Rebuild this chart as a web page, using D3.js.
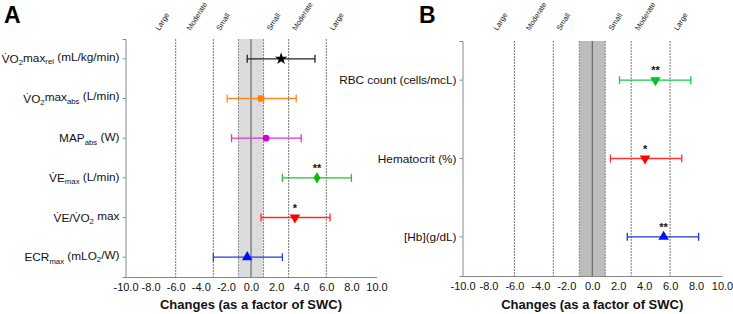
<!DOCTYPE html>
<html><head><meta charset="utf-8">
<script src="https://cdn.jsdelivr.net/npm/d3@7"></script>
<style>body{margin:0;background:#fff}svg{display:block;font-family:"Liberation Sans",Arial,sans-serif}</style>
</head><body><svg id="c" width="733" height="314"></svg>
<script>
// ---------- data ----------
const aLabels = ["V\u0307O_{2}max_{rel} (mL/kg/min)", "V\u0307O_{2}max_{abs} (L/min)", "MAP_{abs} (W)", "V\u0307E_{max} (L/min)", "V\u0307E/V\u0307O_{2} max", "ECR_{max} (mLO_{2}/W)"];
const aMean = [2.4, 0.8, 1.2, 5.26, 3.5, -0.3];
const aLow  = [-0.3, -1.9, -1.55, 2.5, 0.8, -3.0];
const aHigh = [5.1, 3.6, 4.0, 8.0, 6.3, 2.5];
const aSig  = ["", "", "", "**", "*", ""];
const aSymbols = ["star", "square", "circle", "diamond", "down", "up"];
const aColors  = ["#222222", "#ff8a1c", "#e030e0", "#22c322", "#ff2a2a", "#1f3fe0"];
const aMarkerColors = ["#000000", "#ff7f00", "#d500d5", "#10bb10", "#ff0000", "#0010ff"];

const bLabels = ["RBC count (cells/mcL)", "Hematocrit (%)", "[Hb](g/dL)"];
const bMean = [4.87, 4.07, 5.5];
const bLow  = [2.1, 1.4, 2.7];
const bHigh = [7.6, 6.9, 8.2];
const bSig  = ["**", "*", "**"];
const bSymbols = ["down", "down", "up"];
const bColors  = ["#10cc40", "#ff3030", "#2030e0"];
const bMarkerColors = ["#00c030", "#ff0000", "#0010ff"];

const xTicks = [-10, -8, -6, -4, -2, 0, 2, 4, 6, 8, 10];
const thresholds = [-6, -3, 3, 6];
const swcBand = [-1, 1];
const effectLabels = ["Large", "Moderate", "Small", "Small", "Moderate", "Large"];
const effectPos = [-7.3, -4.8, -2.45, 1.57, 3.6, 6.6];
const xTitle = "Changes (as a factor of SWC)";

// ---------- drawing ----------
const FONT = "Liberation Sans, Arial, sans-serif";
const svg = d3.select("#c");
const symMap = {star: d3.symbolStar, square: d3.symbolSquare, circle: d3.symbolCircle, diamond: d3.symbolDiamond, up: d3.symbolTriangle, down: d3.symbolTriangle};
const symSize = {star: 48, square: 40, circle: 36, diamond: 40, up: 48, down: 48};

function richText(sel, str) {
  const parts = str.split(/(_\{[^}]*\})/).filter(s => s.length);
  let sub = false;
  parts.forEach(p => {
    if (p.startsWith("_{")) {
      sel.append("tspan").attr("font-size", "0.66em").attr("dy", "0.3em").text(p.slice(2, -1));
      sub = true;
    } else {
      sel.append("tspan").attr("dy", sub ? "-0.3em" : null).text(p);
      sub = false;
    }
  });
}

function panel(opt) {
  const x = d3.scaleLinear().domain([-10, 10]).range([opt.x0, opt.x1]);
  const y = d3.scaleBand().domain(opt.labels).range([opt.y0, opt.y1]);
  const g = svg.append("g");
  // band
  g.append("rect").attr("x", x(swcBand[0])).attr("y", opt.y0)
    .attr("width", x(swcBand[1]) - x(swcBand[0])).attr("height", opt.y1 - opt.y0)
    .attr("fill", opt.bandFill);
  [swcBand[0], 0, swcBand[1]].forEach(v => {
    g.append("line").attr("x1", x(v)).attr("x2", x(v)).attr("y1", opt.y0).attr("y2", opt.y1)
      .attr("stroke", v === 0 ? "#555" : "#888").attr("stroke-width", 1)
      .attr("stroke-dasharray", v === 0 ? null : "2,1");
  });
  thresholds.forEach(v => {
    g.append("line").attr("x1", x(v)).attr("x2", x(v)).attr("y1", opt.y0).attr("y2", opt.y1)
      .attr("stroke", "#777").attr("stroke-width", 1).attr("stroke-dasharray", "2,1");
  });
  // effect labels
  effectLabels.forEach((t, i) => {
    g.append("text").attr("transform", `translate(${x(effectPos[i])},31) rotate(-58)`)
      .attr("font-size", 7.5).attr("font-family", FONT).attr("fill", "#222").text(t);
  });
  // axes
  const xa = g.append("g").attr("transform", `translate(0,${opt.y1})`)
    .call(d3.axisBottom(x).tickValues(xTicks).tickSize(0).tickPadding(6).tickFormat(d => d.toFixed(1)));
  xa.select(".domain").attr("stroke", "#888");
  xa.selectAll("text").attr("font-size", 11).attr("fill", "#111").attr("font-family", FONT);
  const ya = g.append("g").attr("transform", `translate(${opt.x0},0)`)
    .call(d3.axisLeft(y).tickSize(3).tickPadding(3).tickFormat(""));
  ya.select(".domain").attr("stroke", "#888");
  ya.selectAll(".tick line").attr("stroke", "#888");
  opt.labels.forEach(l => {
    const t = g.append("text").attr("x", opt.x0 - 6).attr("y", y(l) + y.bandwidth() / 2)
      .attr("dy", "0.35em").attr("text-anchor", "end").attr("font-size", 11.8).attr("font-family", FONT).attr("fill", "#111");
    richText(t, l);
  });
  g.append("text").attr("x", (opt.x0 + opt.x1) / 2).attr("y", 309).attr("text-anchor", "middle")
    .attr("font-size", 13).attr("font-weight", "bold").attr("font-family", FONT).attr("fill", "#111").text(xTitle);
  // error bars
  opt.labels.forEach((l, i) => {
    const cy = y(l) + y.bandwidth() / 2;
    const c = opt.colors[i];
    g.append("line").attr("x1", x(opt.low[i])).attr("x2", x(opt.high[i])).attr("y1", cy).attr("y2", cy)
      .attr("stroke", c).attr("stroke-width", 1.3);
    [opt.low[i], opt.high[i]].forEach(v => {
      g.append("line").attr("x1", x(v)).attr("x2", x(v)).attr("y1", cy - 4).attr("y2", cy + 4)
        .attr("stroke", c).attr("stroke-width", 1.3);
    });
    const s = opt.symbols[i];
    g.append("path").attr("d", d3.symbol().type(symMap[s]).size(symSize[s])())
      .attr("transform", `translate(${x(opt.mean[i])},${cy})` + (s === "down" ? " rotate(180)" : ""))
      .attr("fill", opt.markerColors[i]);
    if (opt.sig[i]) {
      g.append("text").attr("x", x(opt.mean[i])).attr("y", cy - 6).attr("text-anchor", "middle")
        .attr("font-size", 11).attr("font-weight", "bold").attr("font-family", FONT).attr("fill", "#111").text(opt.sig[i]);
    }
  });
  svg.append("text").attr("x", opt.letterX).attr("y", 23).attr("font-size", 23).attr("font-weight", "bold")
    .attr("font-family", FONT).attr("fill", "#000").text(opt.letter);
}

panel({letter: "A", letterX: 4, x0: 125.5, x1: 376.5, y0: 39, y1: 277, labels: aLabels, mean: aMean, low: aLow, high: aHigh,
  sig: aSig, symbols: aSymbols, colors: aColors, markerColors: aMarkerColors, bandFill: "#dcdcdc"});
panel({letter: "B", letterX: 419, x0: 462.5, x1: 722, y0: 41, y1: 276, labels: bLabels, mean: bMean, low: bLow, high: bHigh,
  sig: bSig, symbols: bSymbols, colors: bColors, markerColors: bMarkerColors, bandFill: "#bdbdbd"});
</script></body></html>
